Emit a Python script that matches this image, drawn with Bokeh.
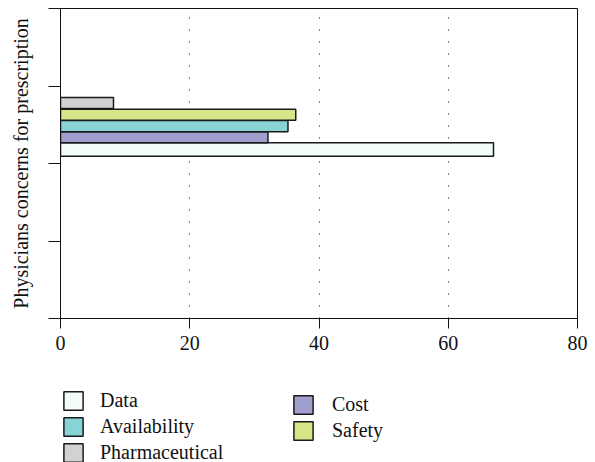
from bokeh.plotting import figure
from bokeh.models import ColumnDataSource, FixedTicker, Legend, LegendItem
from bokeh.layouts import column
from bokeh.embed import file_html
from bokeh.resources import INLINE

# ---- data ----
categories = ["Data", "Cost", "Availability", "Safety", "Pharmaceutical"]
values = [67.0, 32.1, 35.2, 36.4, 8.2]
colors = ["#f4fbfb", "#a19fce", "#87d3d6", "#d9e589", "#d2d2d2"]
x_ticks = [0, 20, 40, 60, 80]
y_ticks = [0, 1, 2, 3, 4]
y_label = "Physicians concerns for prescription"
legend_col1 = ["Data", "Availability", "Pharmaceutical"]
legend_col2 = ["Cost", "Safety"]

# bar layout (y bands, in axis units)
y_lo = [2.094, 2.267, 2.41, 2.557, 2.71]
y_hi = [2.267, 2.41, 2.554, 2.70, 2.853]

FONT = "Liberation Serif"
INK = "#111111"
W = 590

p = figure(width=W, height=370, x_range=(0, 80), y_range=(0, 4),
           output_backend="svg", toolbar_location=None,
           min_border_left=60, min_border_right=W - 577, min_border_top=8,
           min_border_bottom=52)
p.background_fill_color = "white"
p.border_fill_color = "white"
p.outline_line_color = INK
p.outline_line_width = 1

for i, c in enumerate(categories):
    src = ColumnDataSource(dict(y=[(y_lo[i] + y_hi[i]) / 2], h=[y_hi[i] - y_lo[i]],
                                right=[values[i]]))
    p.hbar(y="y", height="h", left=0, right="right", source=src,
           fill_color=colors[i], line_color="#1a1a1a", line_width=1.5)

# axes
p.xaxis.ticker = FixedTicker(ticks=x_ticks)
p.xaxis.minor_tick_line_color = None
p.xaxis.major_tick_out = 10
p.xaxis.major_tick_in = 0
p.xaxis.major_label_text_font = FONT
p.xaxis.major_label_text_font_size = "20px"
p.xaxis.major_label_text_color = INK
p.xaxis.major_label_standoff = 7
p.xaxis.axis_line_color = INK
p.xaxis.major_tick_line_color = INK

p.yaxis.ticker = FixedTicker(ticks=y_ticks)
p.yaxis.minor_tick_line_color = None
p.yaxis.major_tick_out = 12
p.yaxis.major_tick_in = 0
p.yaxis.major_label_overrides = {t: "" for t in y_ticks}
p.yaxis.major_label_text_font_size = "1px"
p.yaxis.major_label_standoff = 0
p.yaxis.axis_label = y_label
p.yaxis.axis_label_text_font = FONT
p.yaxis.axis_label_text_font_size = "20px"
p.yaxis.axis_label_text_font_style = "normal"
p.yaxis.axis_label_text_color = INK
p.yaxis.axis_label_standoff = 17
p.yaxis.axis_line_color = INK
p.yaxis.major_tick_line_color = INK

# grid
p.xgrid.ticker = FixedTicker(ticks=[20, 40, 60])
p.xgrid.grid_line_color = INK
p.xgrid.grid_line_dash = "1 11"
p.xgrid.grid_line_width = 1
p.ygrid.grid_line_color = None

# ---- legend strip (frame is aligned with the chart's frame by the column) ----
LH = 92
lg_fig = figure(width=W, height=LH, x_range=(0, 80), y_range=(0, 1),
                output_backend="svg", toolbar_location=None,
                x_axis_type=None, y_axis_type=None,
                min_border_left=60, min_border_right=W - 577,
                min_border_top=0, min_border_bottom=0)
lg_fig.outline_line_color = None
lg_fig.background_fill_color = None
lg_fig.border_fill_color = None
lg_fig.xgrid.visible = False
lg_fig.ygrid.visible = False

proxy = {}
for i, c in enumerate(categories):
    # legend proxies (hidden): same bars, only used to draw the legend swatches
    src = ColumnDataSource(dict(y=[-5.0], h=[0.1], right=[values[i]]))
    proxy[c] = lg_fig.hbar(y="y", height="h", left=0, right="right", source=src,
                           fill_color=colors[i], line_color="#1a1a1a", line_width=1.5,
                           visible=False)

def make_legend(names, loc, standoff, spacing):
    return Legend(items=[LegendItem(label=n, renderers=[proxy[n]]) for n in names],
                  location=loc, orientation="vertical",
                  glyph_width=24, glyph_height=23, label_height=23,
                  spacing=spacing, padding=0, margin=0, label_standoff=standoff,
                  label_text_font=FONT, label_text_font_size="20px",
                  label_text_color=INK,
                  border_line_color=None, background_fill_alpha=0)

lg_fig.add_layout(make_legend(legend_col1, (1, -2), 15, 3), "center")
lg_fig.add_layout(make_legend(legend_col2, (231, 20), 17, 3), "center")

layout = column(p, lg_fig, spacing=0)
open("out.html", "w").write(file_html(layout, INLINE))
